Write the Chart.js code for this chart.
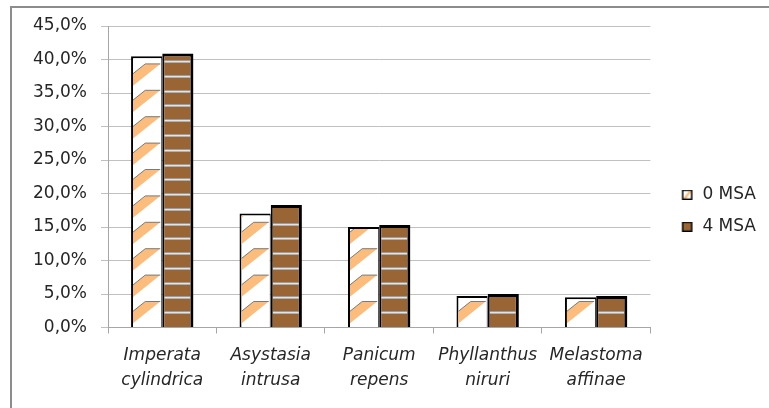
<!DOCTYPE html>
<html>
<head>
<meta charset="utf-8">
<script src="https://cdn.jsdelivr.net/npm/chart.js@4/dist/chart.umd.min.js"></script>
<style>
    html, body { margin: 0; padding: 0; width: 769px; height: 408px; overflow: hidden; background: #fff; }
    #frame { position: absolute; left: 10px; top: 6px; width: 820px; height: 460px; border: 2px solid #8c8c8c; }
    #chart { position: absolute; left: 0; top: 0; }
</style>
</head>
<body>
<div id="frame"></div>
<canvas id="chart" width="769" height="408"></canvas>
<script>
// Species cover (%) before and after herbicide treatment
const species = [
    ['Imperata', 'cylindrica'],
    ['Asystasia', 'intrusa'],
    ['Panicum', 'repens'],
    ['Phyllanthus', 'niruri'],
    ['Melastoma', 'affinae']
];
const seriesNames = ['0 MSA', '4 MSA'];
const msa0 = [40.5, 17.0, 15.0, 4.7, 4.5];
const msa4 = [40.9, 18.3, 15.3, 5.0, 4.7];
const yMax = 45;
const yStep = 5;

const ORANGE = '#fbbc7c';
const BROWN = '#9a6534';

// Small swatches used as legend point styles
function makeSwatch(kind) {
    const c = document.createElement('canvas');
    c.width = 28;
    c.height = 10;
    const g = c.getContext('2d');
    const bx = 17, by = 0.5, bs = 9;
    g.fillStyle = kind === 0 ? '#fff' : BROWN;
    g.fillRect(bx, by, bs, bs);
    if (kind === 0) {
        g.fillStyle = ORANGE;
        g.beginPath();
        g.moveTo(bx, by + bs);
        g.lineTo(bx + bs - 3, by + 1);
        g.lineTo(bx + bs, by + 1);
        g.lineTo(bx + 3, by + bs);
        g.closePath();
        g.fill();
    }
    g.strokeStyle = '#000';
    g.lineWidth = 1.5;
    g.strokeRect(bx, by, bs, bs);
    return c;
}

// Hatch for the 0 MSA bars: slanted orange bands stacked from the base
function drawHatch(ctx, l, r, top, base) {
    const period = 26.4, band = 15, drop = 60;
    for (let k = 0; ; k++) {
        const yk = base - 25.5 - k * period;
        if (yk < top - period) break;
        const xr = r - 1, xl = xr - band;
        ctx.beginPath();
        ctx.moveTo(xl, yk);
        ctx.lineTo(xr, yk);
        ctx.lineTo(xr - drop, yk + 0.8 * drop);
        ctx.lineTo(xl - drop, yk + 0.8 * drop);
        ctx.closePath();
        ctx.fillStyle = ORANGE;
        ctx.fill();
        ctx.beginPath();
        ctx.moveTo(xl - drop, yk + 0.8 * drop);
        ctx.lineTo(xl, yk);
        ctx.lineTo(xr, yk);
        ctx.strokeStyle = '#7a7a7a';
        ctx.lineWidth = 1;
        ctx.stroke();
    }
}

// Horizontal rails for the 4 MSA bars
function drawRails(ctx, l, r, top, base) {
    const step = 14.77;
    for (let k = 1; ; k++) {
        const yk = Math.round(base - k * step);
        if (yk < top + 2) break;
        ctx.fillStyle = '#9c9c9c';
        ctx.fillRect(l, yk - 1, r - l, 1);
        ctx.fillStyle = '#e4e4e4';
        ctx.fillRect(l, yk, r - l, 1);
        ctx.fillStyle = '#b0b0b0';
        ctx.fillRect(l, yk + 1, r - l, 1);
    }
}

const barDecor = {
    id: 'barDecor',
    afterDatasetsDraw(chart) {
        const ctx = chart.ctx;
        chart.data.datasets.forEach((ds, i) => {
            const meta = chart.getDatasetMeta(i);
            const bw = ds.borderWidth;
            meta.data.forEach(bar => {
                const p = bar.getProps(['x', 'y', 'base', 'width'], true);
                const l = p.x - p.width / 2 + bw.left;
                const r = p.x + p.width / 2 - bw.right;
                const top = p.y + bw.top;
                ctx.save();
                ctx.beginPath();
                ctx.rect(l, top, r - l, p.base - top);
                ctx.clip();
                if (i === 0) drawHatch(ctx, l, r, top, p.base);
                else drawRails(ctx, l, r, top, p.base);
                ctx.restore();
            });
        });
    }
};

// Legend sits a little higher than the centred default
const legendNudge = {
    id: 'legendNudge',
    afterLayout(chart) {
        chart.legend.top -= 3.5;
        chart.legend.bottom -= 3.5;
    }
};

Chart.defaults.font.family = "'DejaVu Sans', sans-serif";
Chart.defaults.color = '#262626';

new Chart(document.getElementById('chart'), {
    type: 'bar',
    data: {
        labels: species,
        datasets: [
            {
                label: seriesNames[0],
                data: msa0,
                backgroundColor: '#fff',
                borderColor: '#000',
                borderWidth: { left: 2, top: 2, right: 1, bottom: 0 },
                pointStyle: makeSwatch(0)
            },
            {
                label: seriesNames[1],
                data: msa4,
                backgroundColor: BROWN,
                borderColor: '#000',
                borderWidth: { left: 2, top: 3, right: 3, bottom: 0 },
                pointStyle: makeSwatch(1)
            }
        ]
    },
    options: {
        responsive: false,
        animation: false,
        datasets: { bar: { categoryPercentage: 0.575, barPercentage: 1 } },
        layout: { padding: { left: 19, top: 26, right: 3, bottom: 5.5 } },
        plugins: {
            tooltip: { enabled: false },
            legend: {
                position: 'right',
                labels: {
                    usePointStyle: true,
                    pointStyleWidth: 28.5,
                    padding: 15,
                    color: '#262626',
                    font: { size: 17 }
                }
            }
        },
        scales: {
            x: {
                grid: { drawOnChartArea: false, tickLength: 6, color: '#a6a6a6' },
                border: { color: '#a6a6a6' },
                ticks: {
                    autoSkip: false,
                    maxRotation: 0,
                    padding: 9.5,
                    color: '#262626',
                    font: { size: 17, style: 'italic', lineHeight: 25 / 17 }
                }
            },
            y: {
                min: 0,
                max: yMax,
                grid: { color: '#c0c0c0', tickLength: 7 },
                border: { color: '#a6a6a6' },
                ticks: {
                    stepSize: yStep,
                    padding: 14,
                    color: '#262626',
                    font: { size: 17 },
                    callback: v => v.toFixed(1).replace('.', ',') + '%'
                }
            }
        }
    },
    plugins: [barDecor, legendNudge]
});
</script>
</body>
</html>
